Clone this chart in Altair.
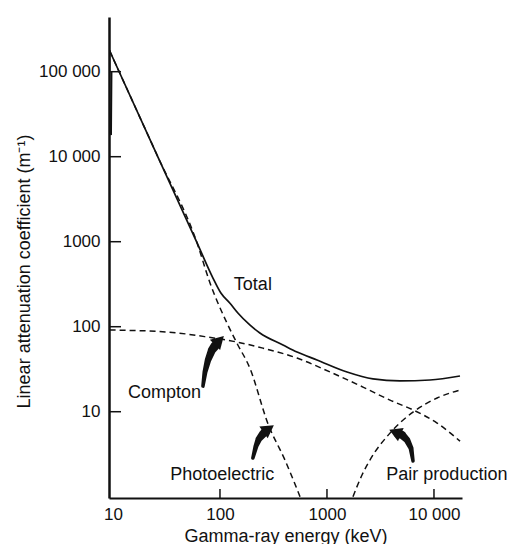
import altair as alt
import pandas as pd

# ---- data (energy in keV, coefficient in 1/m) ----
total_E = [9.72, 9.62, 9.33, 9.29, 26.4, 60.8, 86, 102, 124, 147, 190, 236, 388, 525, 807, 1540, 2690, 4810, 9180, 17500]
total_mu = [99000, 18000, 20000, 177000, 9840, 984, 374, 249, 189, 145, 105, 84.4, 61, 50.4, 40.6, 29.3, 24.3, 23, 23.6, 26.3]

photo_E = [9.29, 26.4, 60.8, 80.7, 116, 144, 190, 281, 405, 560]
photo_mu = [177000, 9840, 984, 327, 111, 64, 32.7, 7.2, 2.7, 1.0]

compton_E = [9.3, 32, 75.7, 144, 252, 525, 1070, 2170, 3880, 6370, 10700, 17500]
compton_mu = [91.5, 86.7, 75.7, 66, 56, 42.8, 29.3, 19.5, 13.7, 10.5, 7.36, 4.5]

pair_E = [1750, 2125, 2520, 3880, 6370, 10700, 17500]
pair_mu = [1.0, 1.8, 2.7, 5.6, 9.9, 14.5, 18]

x_tick_values = [10, 100, 1000, 10000]
x_tick_labels = ["10", "100", "1000", "10 000"]
y_tick_values = [10, 100, 1000, 10000, 100000]
y_tick_labels = ["10", "100", "1000", "10 000", "100 000"]

label_texts = ["Total", "Compton", "Photoelectric", "Pair production"]
label_E = [203, 30.3, 105, 13200]
label_mu = [310, 16.8, 1.8, 1.82]

# curved arrows (annotation paths, data coordinates) and their widths
arrow_id = ["c"] * 5 + ["p"] * 5 + ["q"] * 5
arrow_E = [69.3, 72.4, 77.3, 84.2, 89.8,
           203, 217, 231, 252, 268,
           6370, 6100, 5600, 5030, 4600]
arrow_mu = [20.0, 29.3, 40.6, 53.2, 59.3,
            2.85, 3.94, 4.77, 5.47, 5.9,
            2.63, 3.74, 4.65, 5.33, 5.55]
arrow_w = [3.5, 5, 6.5, 8, 9] * 3
head_E = [95.7, 275, 4510]
head_mu = [66.1, 6.1, 5.61]
head_angle = [45, 55, 293]

FONT = "Liberation Sans"


def label_expr(vals, labels):
    expr = "''"
    for v, l in reversed(list(zip(vals, labels))):
        expr = f"datum.value == {v} ? '{l}' : ({expr})"
    return expr


x_scale = alt.Scale(type="log", domain=[9.18, 18280], nice=False)
y_scale = alt.Scale(type="log", domain=[0.966, 440000], nice=False)

x_axis = alt.Axis(
    values=x_tick_values, labelExpr=label_expr(x_tick_values, x_tick_labels),
    ticks=False, grid=False, domainColor="#111", domainWidth=2,
    labelFont=FONT, labelFontSize=17, labelColor="#111", labelPadding=8,
    labelFlush=False,
    title="Gamma-ray energy (keV)", titleFont=FONT, titleFontSize=18,
    titleFontWeight="normal", titleColor="#111",
    titleBaseline="alphabetic", titleY=43,
)
y_axis = alt.Axis(
    values=y_tick_values, labelExpr=label_expr(y_tick_values, y_tick_labels),
    ticks=False, grid=False, domainColor="#111", domainWidth=2.5,
    labelFont=FONT, labelFontSize=17, labelColor="#111", labelPadding=9,
    labelFlush=False,
    title="Linear attenuation coefficient (m\u207b\u00b9)", titleFont=FONT,
    titleFontSize=18, titleFontWeight="normal", titleColor="#111",
    titleBaseline="alphabetic", titleX=-80, titleY=254, titleAlign="center",
)


def X():
    return alt.X("E:Q", scale=x_scale, axis=x_axis)


def Y():
    return alt.Y("mu:Q", scale=y_scale, axis=y_axis)


def frame(E, mu):
    return pd.DataFrame({"E": E, "mu": mu, "i": list(range(len(E)))})


dashed = dict(color="#111", strokeWidth=1.5, strokeDash=[6, 4], clip=True, interpolate="monotone")

photo = alt.Chart(frame(photo_E, photo_mu)).mark_line(**dashed).encode(x=X(), y=Y(), order="i:Q")
compton = alt.Chart(frame(compton_E, compton_mu)).mark_line(**dashed).encode(x=X(), y=Y(), order="i:Q")
pair = alt.Chart(frame(pair_E, pair_mu)).mark_line(**dashed).encode(x=X(), y=Y(), order="i:Q")

total_df = frame(total_E, total_mu)
total_edge = alt.Chart(total_df).transform_filter("datum.i <= 3").mark_line(
    color="#111", strokeWidth=1.6, clip=True).encode(x=X(), y=Y(), order="i:Q")
total_main = alt.Chart(total_df).transform_filter("datum.i >= 3").mark_line(
    color="#111", strokeWidth=1.7, clip=True, interpolate="monotone").encode(x=X(), y=Y(), order="i:Q")

ytick = alt.Chart(pd.DataFrame({"mu": y_tick_values})).mark_rule(color="#111", strokeWidth=1.5).encode(
    y=Y(), x=alt.value(0), x2=alt.value(12))
xtick = alt.Chart(pd.DataFrame({"E": x_tick_values[1:]})).mark_rule(color="#111", strokeWidth=1.5).encode(
    x=X(), y=alt.value(481), y2=alt.value(472))

labels = alt.Chart(pd.DataFrame({"E": label_E, "mu": label_mu, "t": label_texts})).mark_text(
    font=FONT, fontSize=18, color="#111", align="center", baseline="middle").encode(
    x=X(), y=Y(), text="t:N")

arrows = alt.Chart(pd.DataFrame({"E": arrow_E, "mu": arrow_mu, "w": arrow_w, "a": arrow_id,
                                 "i": list(range(len(arrow_E)))})).mark_trail(color="#111").encode(
    x=X(), y=Y(), size=alt.Size("w:Q", scale=None, legend=None), detail="a:N", order="i:Q")
heads = alt.Chart(pd.DataFrame({"E": head_E, "mu": head_mu, "ang": head_angle})).mark_point(
    shape="triangle", filled=True, color="#111", opacity=1, size=210).encode(
    x=X(), y=Y(), angle=alt.Angle("ang:Q", scale=None))

chart = alt.layer(photo, compton, pair, total_edge, total_main, ytick, xtick, labels, arrows, heads).properties(
    width=353, height=481,
    autosize=alt.AutoSizeParams(type="none"),
    padding={"left": 109, "top": 17, "right": 49, "bottom": 46},
    background="white",
).configure_view(stroke=None)

chart.save("out.html", embed_options={"renderer": "svg", "actions": False})
